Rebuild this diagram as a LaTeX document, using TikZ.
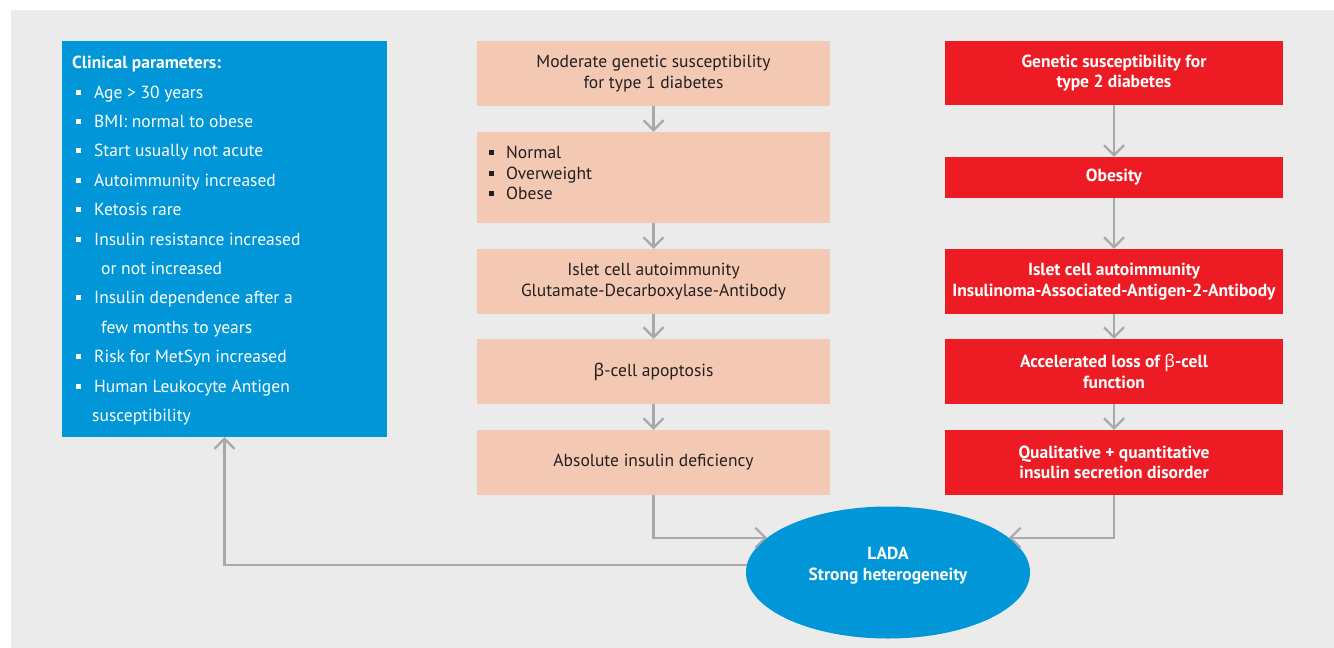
\documentclass[tikz,border=0pt]{standalone}
\usepackage{fontspec}
\setmainfont{PT Sans}
\newfontfamily\grk{Noto Sans}
\usetikzlibrary{shapes.geometric,arrows.meta}
\definecolor{bgpanel}{HTML}{EBEBEB}
\definecolor{cblue}{HTML}{0096D8}
\definecolor{peach}{HTML}{F3C9B3}
\definecolor{cred}{HTML}{ED1C24}
\definecolor{agray}{HTML}{A8A9AB}
\definecolor{dtext}{HTML}{231F20}
\newcommand{\wbul}{\makebox[22pt][l]{\hspace{4pt}\rule[3.5pt]{5pt}{5pt}}}
\newcommand{\pbul}{\makebox[18pt][l]{\hspace{1pt}\rule[3.5pt]{5pt}{5pt}}}
\newcommand{\bet}{{\grk β}}
\begin{document}
\begin{tikzpicture}[x=1pt,y=-1pt,
  txt/.style={font=\fontsize{17.5}{20.5}\selectfont},
  pbox/.style={txt, rectangle, fill=peach, text=dtext, inner sep=0pt, minimum width=353pt, align=center},
  rbox/.style={txt, rectangle, fill=cred, text=white, inner sep=0pt, minimum width=338pt, align=center, font=\fontsize{17.5}{20.5}\selectfont\bfseries},
  conn/.style={draw=agray, line width=2.2pt, -{Straight Barb[length=10pt,width=20pt]}},
]
\useasboundingbox (0,0) rectangle (1334,648);
\fill[white] (0,0) rectangle (1334,648);
\fill[bgpanel] (11,10) rectangle (1334,648);

% left blue box
\node[rectangle, fill=cblue, inner sep=0pt, minimum width=325pt, minimum height=396pt] (clin) at (224.5,239) {};
\node[anchor=north west, inner sep=0pt, text=white, align=left, font=\fontsize{17.5}{29.4}\selectfont] (clintxt) at (72,56) {%
{\bfseries Clinical parameters:}\\
\wbul Age > 30 years\\
\wbul BMI: normal to obese\\
\wbul Start usually not acute\\
\wbul Autoimmunity increased\\
\wbul Ketosis rare\\
\wbul Insulin resistance increased\\
\hspace{29pt}or not increased\\
\wbul Insulin dependence after a\\
\hspace{29pt}few months to years\\
\wbul Risk for MetSyn increased\\
\wbul Human Leukocyte Antigen\\
\hspace{20pt}susceptibility};

% middle column
\node[pbox, minimum height=65pt] (p1) at (653.5,73.5) {Moderate genetic susceptibility\\for type 1 diabetes};
\node[pbox, minimum height=91pt] (p2) at (653.5,177.5) {};
\node[anchor=north west, inner sep=0pt, text=dtext, align=left, font=\fontsize{17.5}{20.5}\selectfont] (p2txt) at (488,146) {%
\pbul Normal\\ \pbul Overweight\\ \pbul Obese};
\node[pbox, minimum height=65pt] (p3) at (653.5,281.5) {Islet cell autoimmunity\\Glutamate-Decarboxylase-Antibody};
\node[pbox, minimum height=65pt] (p4) at (653.5,371.5) {\bet-cell apoptosis};
\node[pbox, minimum height=65pt] (p5) at (653.5,462.5) {Absolute insulin deficiency};

% right column
\node[rbox, minimum height=64pt] (r1) at (1114,73) {Genetic susceptibility for\\type 2 diabetes};
\node[rbox, minimum height=41pt] (r2) at (1114,177.5) {Obesity};
\node[rbox, minimum height=65pt] (r3) at (1114,281.5) {Islet cell autoimmunity\\Insulinoma-Associated-Antigen-2-Antibody};
\node[rbox, minimum height=65pt] (r4) at (1114,371.5) {Accelerated loss of \bet-cell\\function};
\node[rbox, minimum height=65pt] (r5) at (1114,462.5) {Qualitative + quantitative\\insulin secretion disorder};

% ellipse
\node[ellipse, fill=cblue, inner sep=0pt, minimum width=284pt, minimum height=132pt] (lada) at (888,572.5) {};
\node[text=white, inner sep=0pt, align=center, font=\fontsize{17.5}{21}\selectfont\bfseries] (ladatxt) at (888,566) {LADA\\Strong heterogeneity};

% connectors
\draw[conn] (p1) -- (p2);
\draw[conn] (p2) -- (p3);
\draw[conn] (p3) -- (p4);
\draw[conn] (p4) -- (p5);
\draw[conn] (r1) -- (r2);
\draw[conn] (r2) -- (r3);
\draw[conn] (r3) -- (r4);
\draw[conn] (r4) -- (r5);
\draw[conn] (p5.south) |- (lada.164);
\draw[conn] (r5.south) |- (lada.16);
\draw[conn] (lada.177) -| (clin.south);
\end{tikzpicture}
\end{document}
